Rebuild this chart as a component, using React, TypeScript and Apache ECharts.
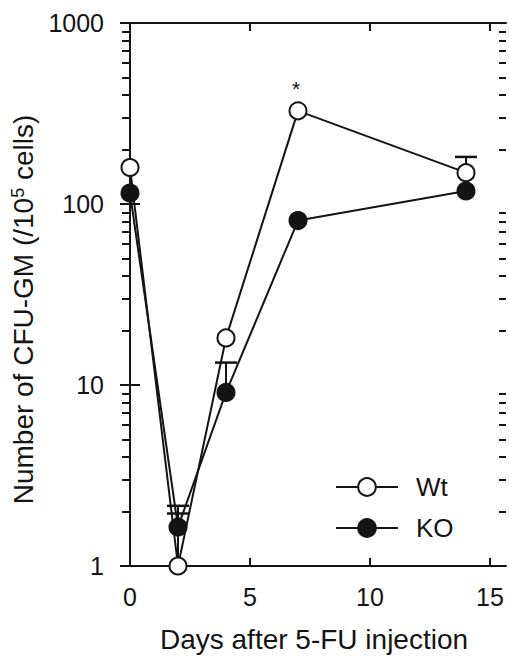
import React, { useEffect, useRef } from "react";
import * as echarts from "echarts";

const days = [0, 2, 4, 7, 14];
const wtValues = [159, 1.0, 18.2, 327, 149];
const koValues = [115, 1.64, 9.1, 81, 118];
const wtErrUpper = [null, 2.15, null, null, 182];
const koErrUpper = [null, 1.95, 13.3, null, null];
const seriesNames = ["Wt", "KO"];
const xTicks = [0, 5, 10, 15];
const yMajor = [1, 10, 100, 1000];
const yMinor = [2, 3, 4, 5, 6, 7, 8, 9, 20, 30, 40, 50, 60, 70, 80, 90, 200, 300, 400, 500, 600, 700, 800, 900];
const starPoint = [7, 327];
const xTitle = "Days after 5-FU injection";
const yTitle = "Number of CFU-GM (/10{sup|5} cells)";

const INK = "#141414";
const FONT = "'Liberation Sans', Arial, sans-serif";

export default function App() {
  const ref = useRef<HTMLDivElement>(null);
  useEffect(() => {
    if (!ref.current) return;
    const chart = echarts.init(ref.current, null, { renderer: "svg" });
    const errData: number[][] = [];
    days.forEach((d, i) => {
      if (wtErrUpper[i] != null) errData.push([d, wtValues[i], wtErrUpper[i] as number]);
      if (koErrUpper[i] != null) errData.push([d, koValues[i], koErrUpper[i] as number]);
    });
    const xBase = {
      type: "value",
      min: -1 / 3,
      max: 15 + 2 / 3,
      splitLine: { show: false },
      axisLine: { show: true, lineStyle: { color: INK, width: 2 } },
      axisTick: { show: true, inside: true, length: 8, customValues: xTicks, lineStyle: { color: INK, width: 2 } },
    };
    const yBase = {
      type: "log",
      logBase: 10,
      min: 1,
      max: 1000,
      splitLine: { show: false },
    };
    const option: any = {
      animation: false,
      backgroundColor: "#ffffff",
      textStyle: { fontFamily: FONT },
      grid: { left: 122, top: 23, right: 3, bottom: 93, containLabel: false },
      legend: {
        data: seriesNames,
        orient: "vertical",
        left: 330,
        top: 469,
        itemWidth: 62,
        itemHeight: 22,
        itemGap: 15,
        formatter: (name: string) => `{pad|}${name}`,
        textStyle: {
          fontSize: 26,
          color: INK,
          fontFamily: FONT,
          rich: { pad: { width: 13, fontSize: 26 } },
        },
      },
      xAxis: [
        {
          ...xBase,
          position: "bottom",
          axisLabel: { show: true, customValues: xTicks, fontSize: 25, color: INK, margin: 18, fontFamily: FONT },
          name: xTitle,
          nameLocation: "middle",
          nameGap: 59,
          nameTextStyle: { fontSize: 28, color: INK, fontFamily: FONT },
        },
        {
          ...xBase,
          position: "top",
          axisLabel: { show: false },
        },
      ],
      yAxis: [
        {
          ...yBase,
          position: "left",
          axisLine: { show: true, lineStyle: { color: INK, width: 2 } },
          axisTick: { show: true, inside: true, length: 10, customValues: yMajor, lineStyle: { color: INK, width: 2 } },
          axisLabel: {
            show: true,
            customValues: yMajor,
            fontSize: 25,
            color: INK,
            margin: 18,
            fontFamily: FONT,
            formatter: (v: number) => String(v),
          },
          name: yTitle,
          nameLocation: "middle",
          nameRotate: 90,
          nameGap: 85,
          nameTextStyle: {
            fontSize: 28,
            color: INK,
            fontFamily: FONT,
            padding: [0, 30, 0, 0],
            rich: { sup: { fontSize: 18, color: INK, fontFamily: FONT, verticalAlign: "top", padding: [0, 0, 10, 0] } },
          },
        },
        {
          ...yBase,
          position: "right",
          axisLine: { show: true, lineStyle: { color: INK, width: 2 } },
          axisTick: { show: true, inside: true, length: 10, customValues: yMajor, lineStyle: { color: INK, width: 2 } },
          axisLabel: { show: false },
        },
        {
          ...yBase,
          position: "left",
          axisLine: { show: false },
          axisTick: { show: true, inside: true, length: 7, customValues: yMinor, lineStyle: { color: INK, width: 2 } },
          axisLabel: { show: false },
        },
        {
          ...yBase,
          position: "right",
          axisLine: { show: false },
          axisTick: { show: true, inside: true, length: 7, customValues: yMinor, lineStyle: { color: INK, width: 2 } },
          axisLabel: { show: false },
        },
      ],
      series: [
        {
          type: "custom",
          name: "err",
          xAxisIndex: 0,
          yAxisIndex: 0,
          z: 1,
          silent: true,
          encode: { x: 0, y: 1 },
          data: errData,
          renderItem: (params: any, api: any) => {
            const x = api.value(0);
            const y = api.value(1);
            const hi = api.value(2);
            const p0 = api.coord([x, y]);
            const p1 = api.coord([x, hi]);
            const w = 11;
            return {
              type: "group",
              children: [
                { type: "line", shape: { x1: p0[0], y1: p0[1], x2: p1[0], y2: p1[1] }, style: { stroke: INK, lineWidth: 2 } },
                { type: "line", shape: { x1: p1[0] - w, y1: p1[1], x2: p1[0] + w, y2: p1[1] }, style: { stroke: INK, lineWidth: 2.5 } },
              ],
            };
          },
        },
        {
          type: "line",
          name: seriesNames[1],
          xAxisIndex: 0,
          yAxisIndex: 0,
          z: 3,
          data: days.map((d, i) => [d, koValues[i]]),
          symbol: "circle",
          symbolSize: 17,
          itemStyle: { color: INK, borderColor: INK, borderWidth: 2 },
          lineStyle: { color: INK, width: 2 },
        },
        {
          type: "line",
          name: seriesNames[0],
          xAxisIndex: 0,
          yAxisIndex: 0,
          z: 4,
          data: days.map((d, i) => [d, wtValues[i]]),
          symbol: "circle",
          symbolSize: 17,
          itemStyle: { color: "#ffffff", borderColor: INK, borderWidth: 2 },
          lineStyle: { color: INK, width: 2 },
          markPoint: {
            symbol: "circle",
            symbolSize: 1,
            itemStyle: { color: "rgba(0,0,0,0)" },
            label: { show: true, formatter: "*", offset: [-2, -22], fontSize: 21, color: INK, fontFamily: FONT },
            data: [{ coord: starPoint }],
          },
        },
      ],
    };
    chart.setOption(option);
    return () => chart.dispose();
  }, []);
  return (
    <div
      ref={ref}
      style={{ position: "absolute", left: 0, top: 0, width: 509, height: 659, background: "#fff" }}
    />
  );
}
